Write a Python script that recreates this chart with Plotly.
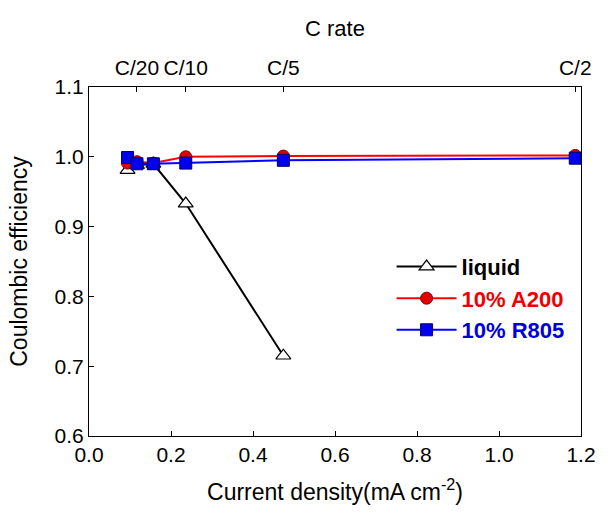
import plotly.graph_objects as go

# Data
x_liquid = [0.094, 0.117, 0.157, 0.236, 0.474]
y_liquid = [0.981, 0.988, 0.990, 0.933, 0.715]

x_a200 = [0.094, 0.117, 0.157, 0.236, 0.474, 1.186]
y_a200 = [0.991, 0.993, 0.991, 1.000, 1.001, 1.002]

x_r805 = [0.094, 0.117, 0.157, 0.236, 0.474, 1.186]
y_r805 = [0.999, 0.990, 0.990, 0.991, 0.995, 0.998]

crate_pos = [0.117, 0.236, 0.474, 1.186]
crate_labels = ["C/20", "C/10", "C/5", "C/2"]

x_ticks = [0, 0.2, 0.4, 0.6, 0.8, 1.0, 1.2]
x_labels = ["0.0", "0.2", "0.4", "0.6", "0.8", "1.0", "1.2"]
y_ticks = [0.6, 0.7, 0.8, 0.9, 1.0, 1.1]
y_labels = ["0.6", "0.7", "0.8", "0.9", "1.0", "1.1"]

FONT = "Arial, Liberation Sans, sans-serif"

fig = go.Figure()
fig.add_trace(go.Scatter(
    x=x_liquid, y=y_liquid, mode="lines+markers",
    name="<span style='color:black'>liquid</span>",
    line=dict(color="black", width=2),
    marker=dict(symbol="triangle-up", size=13, color="white",
                line=dict(color="black", width=1.2)),
))
fig.add_trace(go.Scatter(
    x=x_a200, y=y_a200, mode="lines+markers",
    name="<span style='color:#ee0000'>10% A200</span>",
    line=dict(color="#ff0000", width=2),
    marker=dict(symbol="circle", size=12, color="#e00000",
                line=dict(color="#800000", width=1)),
))
fig.add_trace(go.Scatter(
    x=x_r805, y=y_r805, mode="lines+markers",
    name="<span style='color:#0000dd'>10% R805</span>",
    line=dict(color="#0000ff", width=2),
    marker=dict(symbol="square", size=12, color="#0000ee",
                line=dict(color="#000060", width=1)),
))
# invisible trace to activate top axis
fig.add_trace(go.Scatter(x=[0, 1.2], y=[0.6, 0.6], xaxis="x2", mode="markers",
                         marker=dict(opacity=0), showlegend=False, hoverinfo="skip"))

fig.update_layout(
    width=608, height=515,
    margin=dict(l=89, r=15, t=87, b=79),
    paper_bgcolor="white", plot_bgcolor="white",
    font=dict(family=FONT, size=21, color="black"),
    xaxis=dict(
        range=[0, 1.2], tickvals=x_ticks, ticktext=x_labels,
        showline=True, mirror=True, linecolor="black", linewidth=1.2,
        ticks="inside", ticklen=5, tickcolor="black",
        showgrid=False, zeroline=False,
        tickfont=dict(size=21),
        title=dict(text="Current density(mA cm<sup>-2</sup>)",
                   font=dict(size=23), standoff=18),
    ),
    xaxis2=dict(
        overlaying="x", side="top", range=[0, 1.2],
        tickvals=crate_pos, ticktext=crate_labels,
        ticks="inside", ticklen=5, tickcolor="black",
        ticklabelstandoff=7,
        showline=False, showgrid=False, zeroline=False,
        tickfont=dict(size=21),
        title=dict(text="C rate", font=dict(size=22), standoff=13),
    ),
    yaxis=dict(
        range=[0.6, 1.1], tickvals=y_ticks, ticktext=y_labels,
        showline=True, mirror=True, linecolor="black", linewidth=1.2,
        ticks="inside", ticklen=5, tickcolor="black",
        showgrid=False, zeroline=False,
        tickfont=dict(size=21),
        title=dict(text="Coulombic efficiency", font=dict(size=23), standoff=20),
    ),
    legend=dict(
        x=0.615, y=0.545, xanchor="left", yanchor="top",
        bgcolor="rgba(0,0,0,0)", borderwidth=0,
        font=dict(size=22, family=FONT, weight="bold"),
        tracegroupgap=0, itemwidth=60,
    ),
    showlegend=True,
)

fig.write_html("out.html")
